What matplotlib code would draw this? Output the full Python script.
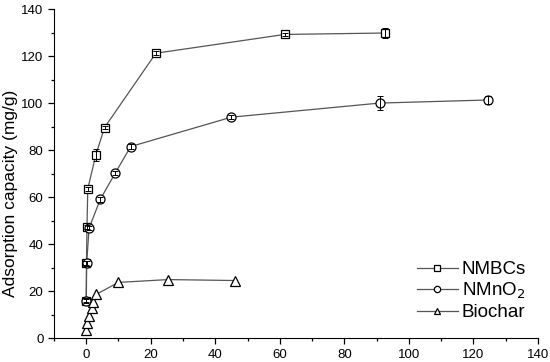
import matplotlib
matplotlib.use("Agg")
import matplotlib.pyplot as plt
from matplotlib.ticker import MultipleLocator

plt.rcParams['font.family'] = ['Liberation Sans', 'DejaVu Sans']

# NMBCs
t_nmbc = [0, 0.1, 0.25, 0.5, 3, 5.7, 21.6, 61.5, 92.5]
q_nmbc = [16, 32, 47.3, 63.5, 78, 89.6, 121.2, 129.2, 129.8]
e_nmbc = [0.8, 0.8, 0.8, 0.8, 2.5, 0.8, 0.8, 0.8, 2.0]

# NMnO2
t_mno = [0.05, 0.15, 0.9, 4.4, 9, 13.8, 45, 91, 124.4]
q_mno = [16, 31.8, 46.8, 59.1, 70.2, 81.5, 94, 100, 101.3]
e_mno = [1.0, 1.0, 1.0, 1.0, 1.0, 1.2, 0.8, 3.0, 1.5]

# Biochar
t_bio = [0, 0.3, 1.0, 1.7, 2.2, 3.1, 10, 25.4, 46]
q_bio = [3.5, 6.5, 9.5, 12.6, 15.4, 18.6, 23.7, 24.9, 24.5]

fig = plt.figure(figsize=(5.5, 3.62), dpi=100)
ax = fig.add_axes([0.098, 0.066, 0.88, 0.909])

lc = '#555555'
sty = dict(color=lc, lw=0.9, mfc='white', mec='black', mew=0.9)
l1, = ax.plot(t_nmbc, q_nmbc, marker='s', ms=6, label='NMBCs', **sty)
l2, = ax.plot(t_mno, q_mno, marker='o', ms=6.5, label='NMnO$_2$', **sty)
l3, = ax.plot(t_bio, q_bio, marker='^', ms=7, label='Biochar', **sty)

# error bars drawn over the open markers
ax.errorbar(t_nmbc, q_nmbc, yerr=e_nmbc, fmt='none', ecolor='black',
            elinewidth=0.7, capsize=2.5, capthick=0.7, zorder=4)
ax.errorbar(t_mno, q_mno, yerr=e_mno, fmt='none', ecolor='black',
            elinewidth=0.7, capsize=2.5, capthick=0.7, zorder=4)

ax.set_xlim(-10, 140)
ax.set_ylim(0, 140)
ax.xaxis.set_major_locator(MultipleLocator(20))
ax.xaxis.set_minor_locator(MultipleLocator(10))
ax.yaxis.set_major_locator(MultipleLocator(20))
ax.yaxis.set_minor_locator(MultipleLocator(10))
ax.spines['top'].set_visible(False)
ax.spines['right'].set_visible(False)
ax.tick_params(which='major', direction='out', length=4, width=0.9, labelsize=9.5)
ax.tick_params(which='minor', direction='out', length=2.5, width=0.9)
ax.set_ylabel('Adsorption capacity (mg/g)', fontsize=12.5)
ax.yaxis.set_label_coords(-0.075, 0.44)

ax.legend([l1, l2, l3], ['NMBCs', 'NMnO$_2$', 'Biochar'], loc='lower right',
          bbox_to_anchor=(1.01, 0.0), frameon=False, fontsize=13.5,
          handlelength=2.2, handletextpad=0.2, labelspacing=0.15,
          markerscale=0.7)

fig.savefig('out.png', dpi=100)
